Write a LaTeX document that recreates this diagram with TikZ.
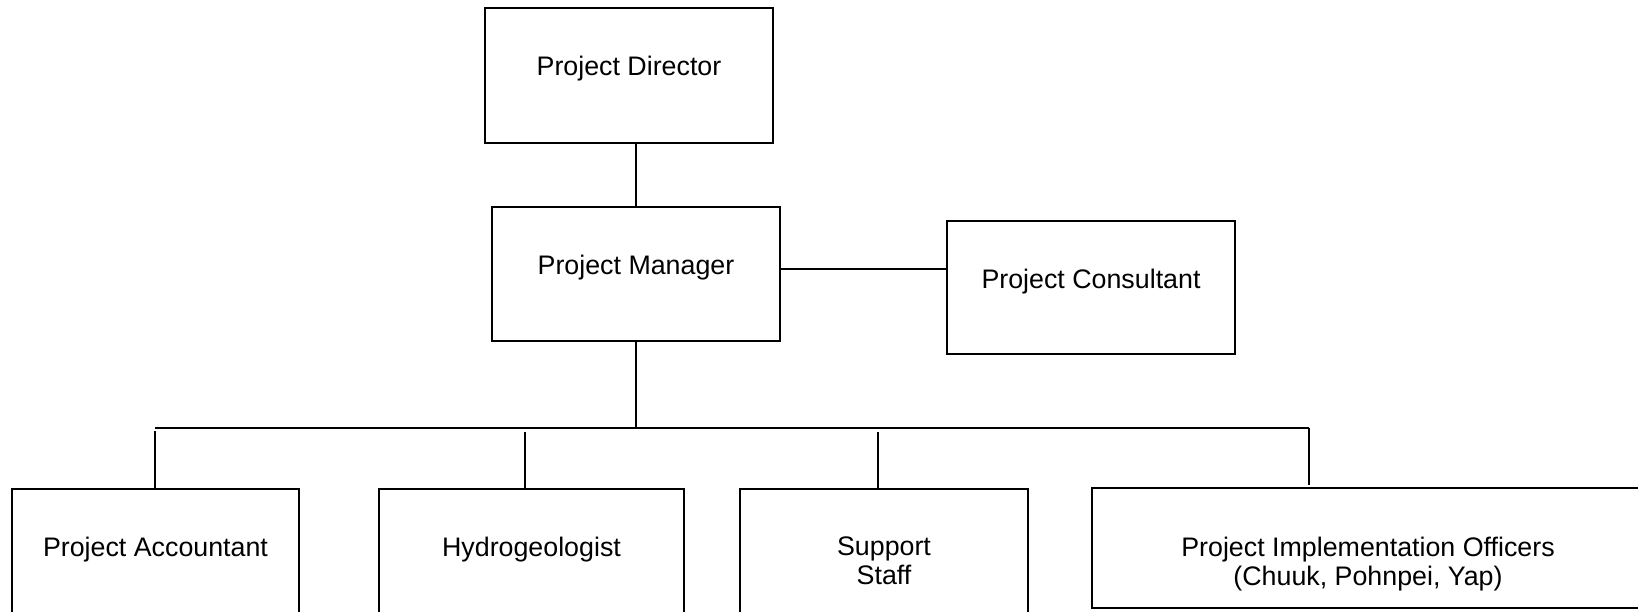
\documentclass[tikz,border=0pt]{standalone}
\usepackage{fontspec}
\setmainfont{Liberation Sans}
\usetikzlibrary{calc}
\begin{document}
\begin{tikzpicture}[x=1pt,y=-1pt,
  box/.style={draw=black,line width=2pt,rectangle,inner sep=0pt,outer sep=0pt},
  txt/.style={anchor=base,inner sep=0pt,align=center,font=\fontsize{26.8}{29.5}\selectfont},
  conn/.style={draw=black,line width=2pt}]
\useasboundingbox (0,0) rectangle (1638,611);
% boxes
\node[box,minimum width=288pt,minimum height=135pt] (dir) at (629,75.5) {};
\node[box,minimum width=288pt,minimum height=134pt] (pm) at (636,274) {};
\node[box,minimum width=288pt,minimum height=133pt] (pc) at (1091,287.5) {};
\node[box,minimum width=287pt,minimum height=151pt] (acc) at (155.5,564.5) {};
\node[box,minimum width=305pt,minimum height=151pt] (hyd) at (531.5,564.5) {};
\node[box,minimum width=288pt,minimum height=151pt] (sup) at (884,564.5) {};
\node[box,minimum width=600pt,minimum height=120pt] (pio) at (1392,548) {};
% texts
\node[txt] (dirT) at (629,75) {Project Director};
\node[txt] (pmT) at (636,274) {Project Manager};
\node[txt] (pcT) at (1091,288) {Project Consultant};
\node[txt] (accT) at (155.5,556) {Project Accountant};
\node[txt] (hydT) at (531.5,556) {Hydrogeologist};
\node[txt,anchor=north,yshift=-556pt+19.5pt] (supT) at (884,0) {Support\\Staff};
\node[txt,anchor=north,yshift=-556pt+19.5pt] (pioT) at (1368,0) {Project Implementation Officers\\(Chuuk, Pohnpei, Yap)};
% connectors
\coordinate (busL) at (155,428);
\coordinate (busR) at (1309,428);
\coordinate (t2) at (525,428);
\coordinate (t3) at (878,428);
\draw[conn] (pm.north) -- (pm.north |- dir.south);
\draw[conn] ([yshift=5pt]pm.east) -- ([yshift=5pt]pm.east -| pc.west);
\draw[conn] (pm.south) -- (pm.south |- busL);
\draw[conn] (busL) -- (busR);
\draw[conn] ($(busL)+(0,3)$) -- (busL |- acc.north);
\draw[conn] ($(t2)+(0,4)$) -- (t2 |- hyd.north);
\draw[conn] ($(t3)+(0,4)$) -- (t3 |- sup.north);
\draw[conn] (busR) -- ($(busR |- pio.north)+(0,-3)$);
\end{tikzpicture}
\end{document}
